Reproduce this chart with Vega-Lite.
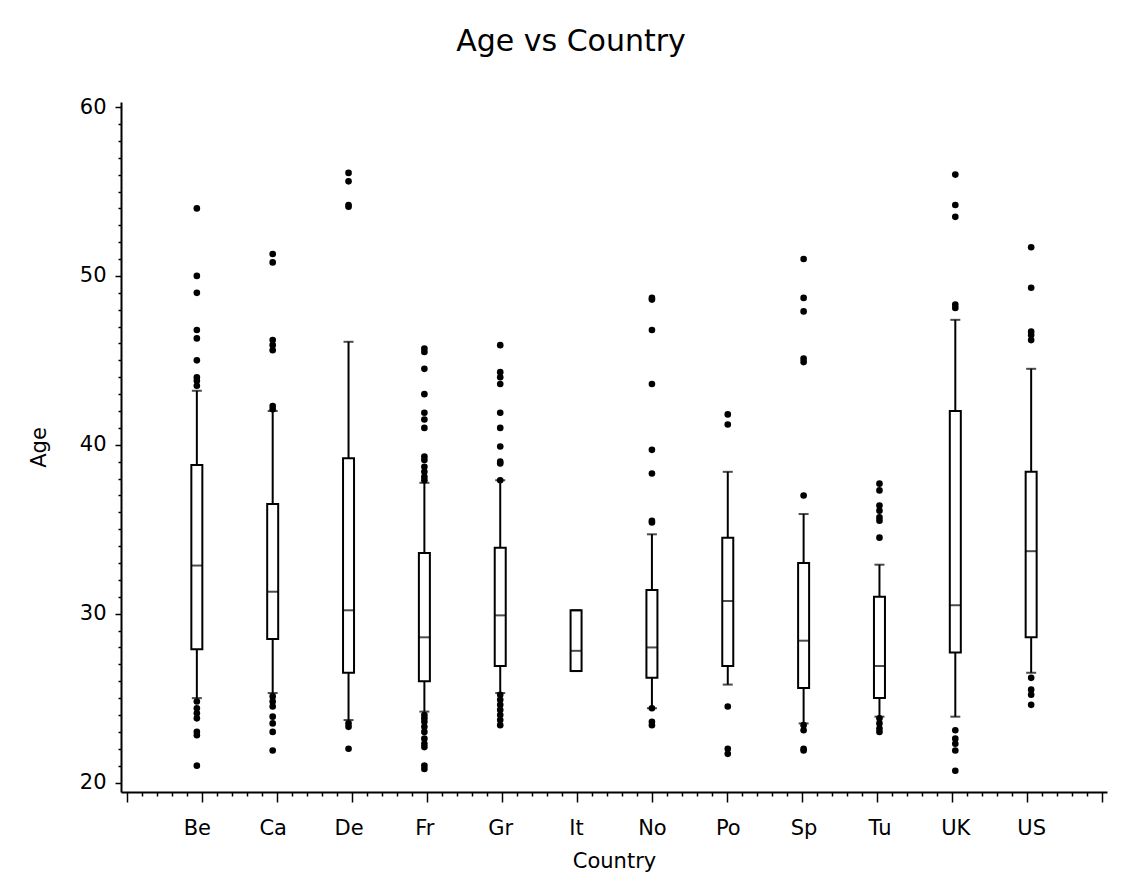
{
  "$schema": "https://vega.github.io/schema/vega-lite/v6.json",
  "autosize": {"type": "none"},
  "width": 986,
  "height": 690,
  "padding": {"left": 121, "top": 102, "right": 38, "bottom": 95},
  "background": "white",
  "title": {"text": "Age vs Country", "fontSize": 30, "font": "DejaVu Sans", "fontWeight": "normal", "color": "black", "anchor": "middle", "baseline": "alphabetic", "offset": 15, "dx": -43},
  "datasets": {
    "stats": [
      {"country": "Be", "lower": 25.0, "q1": 27.9, "median": 32.85, "q3": 38.8, "upper": 43.2},
      {"country": "Ca", "lower": 25.3, "q1": 28.5, "median": 31.3, "q3": 36.5, "upper": 42.0},
      {"country": "De", "lower": 23.7, "q1": 26.5, "median": 30.2, "q3": 39.2, "upper": 46.1},
      {"country": "Fr", "lower": 24.2, "q1": 26.0, "median": 28.6, "q3": 33.6, "upper": 37.75},
      {"country": "Gr", "lower": 25.3, "q1": 26.9, "median": 29.9, "q3": 33.9, "upper": 37.9},
      {"country": "It", "lower": 26.6, "q1": 26.6, "median": 27.8, "q3": 30.2, "upper": 30.2},
      {"country": "No", "lower": 24.4, "q1": 26.2, "median": 28.0, "q3": 31.4, "upper": 34.7},
      {"country": "Po", "lower": 25.8, "q1": 26.9, "median": 30.75, "q3": 34.5, "upper": 38.4},
      {"country": "Sp", "lower": 23.5, "q1": 25.6, "median": 28.4, "q3": 33.0, "upper": 35.9},
      {"country": "Tu", "lower": 23.9, "q1": 25.0, "median": 26.9, "q3": 31.0, "upper": 32.9},
      {"country": "UK", "lower": 23.9, "q1": 27.7, "median": 30.5, "q3": 42.0, "upper": 47.4},
      {"country": "US", "lower": 26.5, "q1": 28.6, "median": 33.7, "q3": 38.4, "upper": 44.5}
    ],
    "outliers": [
      {"country": "Be", "age": 54.0}, {"country": "Be", "age": 50.0}, {"country": "Be", "age": 49.0}, {"country": "Be", "age": 46.8}, {"country": "Be", "age": 46.3}, {"country": "Be", "age": 45.0}, {"country": "Be", "age": 44.0}, {"country": "Be", "age": 43.8}, {"country": "Be", "age": 43.5}, {"country": "Be", "age": 24.8}, {"country": "Be", "age": 24.4}, {"country": "Be", "age": 24.1}, {"country": "Be", "age": 23.8}, {"country": "Be", "age": 23.0}, {"country": "Be", "age": 22.8}, {"country": "Be", "age": 21.0},
      {"country": "Ca", "age": 51.3}, {"country": "Ca", "age": 50.8}, {"country": "Ca", "age": 46.2}, {"country": "Ca", "age": 45.9}, {"country": "Ca", "age": 45.6}, {"country": "Ca", "age": 42.3}, {"country": "Ca", "age": 42.1}, {"country": "Ca", "age": 25.1}, {"country": "Ca", "age": 24.8}, {"country": "Ca", "age": 24.5}, {"country": "Ca", "age": 23.9}, {"country": "Ca", "age": 23.5}, {"country": "Ca", "age": 23.0}, {"country": "Ca", "age": 21.9},
      {"country": "De", "age": 56.1}, {"country": "De", "age": 55.6}, {"country": "De", "age": 54.2}, {"country": "De", "age": 54.1}, {"country": "De", "age": 23.5}, {"country": "De", "age": 23.3}, {"country": "De", "age": 22.0},
      {"country": "Fr", "age": 45.7}, {"country": "Fr", "age": 45.5}, {"country": "Fr", "age": 44.5}, {"country": "Fr", "age": 43.0}, {"country": "Fr", "age": 41.9}, {"country": "Fr", "age": 41.5}, {"country": "Fr", "age": 41.0}, {"country": "Fr", "age": 39.3}, {"country": "Fr", "age": 39.1}, {"country": "Fr", "age": 38.7}, {"country": "Fr", "age": 38.4}, {"country": "Fr", "age": 38.1}, {"country": "Fr", "age": 37.9}, {"country": "Fr", "age": 24.0}, {"country": "Fr", "age": 23.8}, {"country": "Fr", "age": 23.6}, {"country": "Fr", "age": 23.3}, {"country": "Fr", "age": 23.0}, {"country": "Fr", "age": 22.6}, {"country": "Fr", "age": 22.3}, {"country": "Fr", "age": 22.1}, {"country": "Fr", "age": 21.0}, {"country": "Fr", "age": 20.8},
      {"country": "Gr", "age": 45.9}, {"country": "Gr", "age": 44.3}, {"country": "Gr", "age": 44.0}, {"country": "Gr", "age": 43.6}, {"country": "Gr", "age": 41.9}, {"country": "Gr", "age": 41.0}, {"country": "Gr", "age": 39.9}, {"country": "Gr", "age": 39.0}, {"country": "Gr", "age": 38.9}, {"country": "Gr", "age": 37.9}, {"country": "Gr", "age": 25.2}, {"country": "Gr", "age": 24.9}, {"country": "Gr", "age": 24.6}, {"country": "Gr", "age": 24.3}, {"country": "Gr", "age": 24.0}, {"country": "Gr", "age": 23.7}, {"country": "Gr", "age": 23.4},
      {"country": "No", "age": 48.7}, {"country": "No", "age": 48.6}, {"country": "No", "age": 46.8}, {"country": "No", "age": 43.6}, {"country": "No", "age": 39.7}, {"country": "No", "age": 38.3}, {"country": "No", "age": 35.5}, {"country": "No", "age": 35.4}, {"country": "No", "age": 24.4}, {"country": "No", "age": 23.6}, {"country": "No", "age": 23.4},
      {"country": "Po", "age": 41.8}, {"country": "Po", "age": 41.2}, {"country": "Po", "age": 24.5}, {"country": "Po", "age": 22.0}, {"country": "Po", "age": 21.7},
      {"country": "Sp", "age": 51.0}, {"country": "Sp", "age": 48.7}, {"country": "Sp", "age": 47.9}, {"country": "Sp", "age": 45.1}, {"country": "Sp", "age": 44.9}, {"country": "Sp", "age": 37.0}, {"country": "Sp", "age": 23.4}, {"country": "Sp", "age": 23.1}, {"country": "Sp", "age": 22.0}, {"country": "Sp", "age": 21.9},
      {"country": "Tu", "age": 37.7}, {"country": "Tu", "age": 37.3}, {"country": "Tu", "age": 36.4}, {"country": "Tu", "age": 36.1}, {"country": "Tu", "age": 35.7}, {"country": "Tu", "age": 35.5}, {"country": "Tu", "age": 34.5}, {"country": "Tu", "age": 23.8}, {"country": "Tu", "age": 23.5}, {"country": "Tu", "age": 23.2}, {"country": "Tu", "age": 23.0},
      {"country": "UK", "age": 56.0}, {"country": "UK", "age": 54.2}, {"country": "UK", "age": 53.5}, {"country": "UK", "age": 48.3}, {"country": "UK", "age": 48.1}, {"country": "UK", "age": 23.1}, {"country": "UK", "age": 22.6}, {"country": "UK", "age": 22.3}, {"country": "UK", "age": 21.9}, {"country": "UK", "age": 20.7},
      {"country": "US", "age": 51.7}, {"country": "US", "age": 49.3}, {"country": "US", "age": 46.7}, {"country": "US", "age": 46.5}, {"country": "US", "age": 46.2}, {"country": "US", "age": 26.2}, {"country": "US", "age": 25.5}, {"country": "US", "age": 25.2}, {"country": "US", "age": 24.6}
    ]
  },
  "layer": [
    {
      "layer": [
        {
          "data": {"name": "stats"},
          "mark": {"type": "rule", "color": "black", "strokeWidth": 2},
          "encoding": {
            "x": {"field": "country", "type": "nominal", "sort": null,
                  "scale": {"type": "point", "padding": 1.07, "domain": ["Be","Ca","De","Fr","Gr","It","No","Po","Sp","Tu","UK","US"]},
                  "axis": {"orient": "bottom", "ticks": false, "tickSize": 0, "domain": false, "labelAngle": 0, "labelPadding": 25, "labelFontSize": 21, "titleFontSize": 21, "titlePadding": 12, "labelColor": "black", "titleColor": "black", "titleFontWeight": "normal"},
                  "title": "Country"},
            "y": {"field": "lower", "type": "quantitative", "title": "Age",
                  "scale": {"domain": [19.44, 60.3], "nice": false, "zero": false},
                  "axis": {"orient": "left", "values": [20, 30, 40, 50, 60],
                           "tickSize": 6, "labelOverlap": false, "labelFlush": false, "labelPadding": 9,
                           "labelFontSize": 21, "titleFontSize": 21, "titlePadding": 30,
                           "domainColor": "black", "domainWidth": 2, "tickColor": "black", "tickWidth": 1.5,
                           "labelColor": "black", "titleColor": "black", "titleFontWeight": "normal", "grid": false}},
            "y2": {"field": "upper"}
          }
        },
        {
          "data": {"name": "stats"},
          "mark": {"type": "bar", "fill": "white", "stroke": "black", "strokeWidth": 2, "width": 11},
          "encoding": {
            "x": {"field": "country", "type": "nominal", "sort": null},
            "y": {"field": "q1", "type": "quantitative", "title": "Age"},
            "y2": {"field": "q3"}
          }
        },
        {
          "data": {"name": "stats"},
          "mark": {"type": "tick", "color": "black", "size": 11, "thickness": 2},
          "encoding": {
            "x": {"field": "country", "type": "nominal", "sort": null},
            "y": {"field": "median", "type": "quantitative", "title": "Age"}
          }
        },
        {
          "data": {"name": "stats"},
          "mark": {"type": "tick", "color": "black", "size": 10, "thickness": 2},
          "encoding": {
            "x": {"field": "country", "type": "nominal", "sort": null},
            "y": {"field": "upper", "type": "quantitative", "title": "Age"}
          }
        },
        {
          "data": {"name": "stats"},
          "mark": {"type": "tick", "color": "black", "size": 10, "thickness": 2},
          "encoding": {
            "x": {"field": "country", "type": "nominal", "sort": null},
            "y": {"field": "lower", "type": "quantitative", "title": "Age"}
          }
        },
        {
          "data": {"name": "outliers"},
          "mark": {"type": "point", "filled": true, "color": "black", "size": 44, "opacity": 1},
          "encoding": {
            "x": {"field": "country", "type": "nominal", "sort": null},
            "y": {"field": "age", "type": "quantitative", "title": "Age"}
          }
        }
      ]
    },
    {
      "data": {"values": [{"t": 0, "v": 20}, {"t": 13, "v": 60}]},
      "mark": {"type": "point", "opacity": 0},
      "encoding": {
        "x": {"field": "t", "type": "quantitative",
              "scale": {"domain": [-0.08, 13.06], "nice": false, "zero": false},
              "axis": {"orient": "bottom", "title": null, "labels": false, "grid": false,
                       "values": [0,0.2,0.4,0.6,0.8,1,1.2,1.4,1.6,1.8,2,2.2,2.4,2.6,2.8,3,3.2,3.4,3.6,3.8,4,4.2,4.4,4.6,4.8,5,5.2,5.4,5.6,5.8,6,6.2,6.4,6.6,6.8,7,7.2,7.4,7.6,7.8,8,8.2,8.4,8.6,8.8,9,9.2,9.4,9.6,9.8,10,10.2,10.4,10.6,10.8,11,11.2,11.4,11.6,11.8,12,12.2,12.4,12.6,12.8,13],
                       "tickSize": {"condition": {"test": "datum.value % 1 === 0", "value": 10}, "value": 4},
                       "domainColor": "black", "domainWidth": 2, "tickColor": "black", "tickWidth": 1.5}},
        "y": {"field": "v", "type": "quantitative",
              "axis": {"orient": "left", "title": null, "labels": false, "grid": false, "domain": false,
                       "values": [21,22,23,24,25,26,27,28,29,31,32,33,34,35,36,37,38,39,41,42,43,44,45,46,47,48,49,51,52,53,54,55,56,57,58,59],
                       "tickSize": 3, "tickColor": "black", "tickWidth": 1.5}}
      }
    }
  ],
  "resolve": {"scale": {"x": "independent"}, "axis": {"x": "independent", "y": "independent"}},
  "config": {
    "font": "DejaVu Sans",
    "view": {"stroke": null},
    "axis": {"labelFont": "DejaVu Sans", "titleFont": "DejaVu Sans"}
  }
}
